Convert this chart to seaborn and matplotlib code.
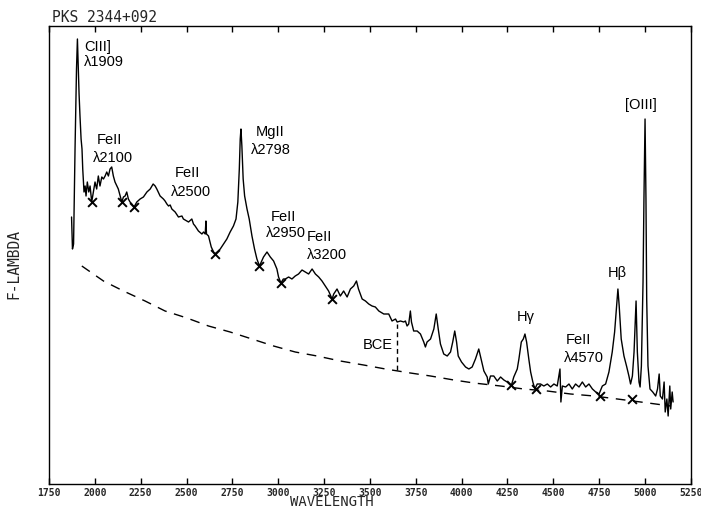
import matplotlib
matplotlib.use("Agg")
import matplotlib.pyplot as plt
import seaborn as sns
import pandas as pd

# spectrum (wavelength in Angstrom, F-lambda in arbitrary units)
wavelength = [
    1873, 1878, 1884, 1892, 1900, 1905, 1910, 1914, 1919, 1925, 1930, 1934, 1941, 1947,
    1952, 1959, 1967, 1974, 1983, 1992, 2001, 2010, 2019, 2028, 2038, 2047, 2056, 2065,
    2074, 2083, 2092, 2101, 2110, 2120, 2128, 2138, 2147, 2156, 2165, 2174, 2183, 2192,
    2202, 2214, 2229, 2247, 2265, 2284, 2302, 2318, 2329, 2338, 2356, 2374, 2383, 2393,
    2402, 2411, 2420, 2438, 2456, 2475, 2483, 2502, 2511, 2529, 2538, 2547, 2565, 2584,
    2593, 2602, 2606, 2609, 2620, 2635, 2653, 2667, 2684, 2702, 2720, 2738, 2756, 2770,
    2780, 2788, 2793, 2797, 2802, 2809, 2817, 2830, 2842, 2857, 2871, 2884, 2898, 2920,
    2939, 2957, 2975, 2993, 3002, 3015, 3028, 3039, 3057, 3075, 3093, 3111, 3130, 3148,
    3166, 3185, 3203, 3221, 3239, 3257, 3275, 3294, 3303, 3321, 3339, 3357, 3376, 3394,
    3412, 3427, 3438, 3458, 3476, 3494, 3512, 3530, 3549, 3576, 3603, 3621, 3640, 3649,
    3667, 3685, 3694, 3703, 3712, 3721, 3727, 3739, 3758, 3776, 3794, 3803, 3812, 3831,
    3849, 3862, 3873, 3885, 3903, 3922, 3940, 3952, 3963, 3973, 3982, 4000, 4022, 4040,
    4058, 4076, 4094, 4107, 4122, 4140, 4146, 4158, 4176, 4195, 4213, 4231, 4249, 4271,
    4285, 4304, 4313, 4326, 4337, 4346, 4355, 4367, 4377, 4389, 4400, 4413, 4431, 4449,
    4468, 4486, 4504, 4522, 4537, 4542, 4550, 4568, 4586, 4604, 4622, 4641, 4659, 4677,
    4695, 4714, 4732, 4750, 4768, 4786, 4804, 4822, 4835, 4846, 4853, 4860, 4871, 4886,
    4900, 4913, 4922, 4932, 4941, 4952, 4959, 4968, 4974, 4981, 4990, 4995, 5001, 5006,
    5010, 5017, 5028, 5043, 5059, 5069, 5078, 5084, 5096, 5105, 5111, 5120, 5127, 5136,
    5141, 5149, 5154,
]
flux = [
    2.67, 2.35, 2.40, 3.35, 4.15, 4.45, 4.15, 3.90, 3.68, 3.45, 3.35, 3.15, 2.92, 2.98,
    2.88, 3.02, 2.92, 2.98, 2.82, 2.92, 3.02, 2.95, 3.08, 2.98, 3.07, 3.05, 3.08, 3.12,
    3.08, 3.15, 3.17, 3.08, 3.02, 2.98, 2.95, 2.88, 2.82, 2.87, 2.88, 2.92, 2.85, 2.82,
    2.80, 2.77, 2.82, 2.85, 2.87, 2.92, 2.95, 3.00, 2.98, 2.95, 2.88, 2.85, 2.83, 2.80,
    2.78, 2.79, 2.75, 2.72, 2.67, 2.68, 2.65, 2.63, 2.62, 2.65, 2.60, 2.58, 2.53, 2.50,
    2.52, 2.50, 2.63, 2.50, 2.48, 2.37, 2.30, 2.32, 2.35, 2.40, 2.45, 2.52, 2.58, 2.65,
    2.82, 3.15, 3.45, 3.55, 3.38, 3.05, 2.88, 2.75, 2.65, 2.48, 2.35, 2.25, 2.18, 2.27,
    2.32, 2.27, 2.23, 2.15, 2.07, 2.01, 2.05, 2.05, 2.07, 2.05, 2.08, 2.10, 2.14, 2.12,
    2.10, 2.15, 2.10, 2.07, 2.03, 1.98, 1.93, 1.85, 1.90, 1.95, 1.88, 1.93, 1.87, 1.95,
    1.98, 2.03, 1.95, 1.85, 1.83, 1.80, 1.78, 1.77, 1.73, 1.70, 1.70, 1.63, 1.65, 1.62,
    1.63, 1.62, 1.63, 1.58, 1.60, 1.73, 1.62, 1.53, 1.53, 1.50, 1.42, 1.37, 1.42, 1.45,
    1.55, 1.70, 1.55, 1.40, 1.30, 1.28, 1.32, 1.42, 1.53, 1.42, 1.28, 1.22, 1.17, 1.15,
    1.17, 1.25, 1.35, 1.25, 1.13, 1.07, 1.00, 1.08, 1.08, 1.03, 1.07, 1.04, 1.02, 0.98,
    1.07, 1.15, 1.25, 1.42, 1.45, 1.50, 1.42, 1.25, 1.12, 1.02, 0.95, 1.00, 1.00, 0.98,
    1.00, 0.97, 1.00, 0.98, 1.15, 0.82, 0.98, 0.97, 1.00, 0.95, 1.00, 0.97, 1.02, 0.97,
    1.00, 0.95, 0.92, 0.90, 0.98, 1.00, 1.12, 1.32, 1.52, 1.78, 1.95, 1.78, 1.45, 1.28,
    1.18, 1.08, 1.00, 1.08, 1.32, 1.83, 1.32, 1.02, 0.97, 1.18, 2.02, 2.85, 3.65, 2.85,
    1.85, 1.18, 0.95, 0.92, 0.88, 0.95, 1.10, 0.88, 0.85, 1.02, 0.72, 0.85, 0.68, 0.98,
    0.75, 0.92, 0.82,
]

# continuum points marked with X
cont_wave = [1983, 2147, 2214, 2653, 2897, 3017, 3293, 4271, 4404, 4755, 4932]
cont_flux = [2.82, 2.82, 2.77, 2.30, 2.18, 2.01, 1.85, 0.99, 0.95, 0.88, 0.85]

# dashed power-law continuum
pl_wave = [1929, 2047, 2156, 2274, 2383, 2502, 2620, 2738, 2857, 2975, 3093, 3212, 3339,
           3466, 3585, 3721, 3831, 3958, 4067, 4213, 4340, 4468, 4595, 4722, 4850, 4977, 5141]
pl_flux = [2.18, 2.03, 1.93, 1.83, 1.73, 1.66, 1.58, 1.52, 1.45, 1.38, 1.32, 1.28, 1.23,
           1.19, 1.15, 1.11, 1.08, 1.04, 1.01, 0.98, 0.95, 0.93, 0.90, 0.88, 0.85, 0.82, 0.78]

# Balmer continuum edge
bce_wave = [3649, 3649]
bce_flux = [1.14, 1.60]

# line labels: (text, wavelength, flux)
labels = [
    ("CIII]", 1941, 4.38), ("λ1909", 1941, 4.23),
    ("FeII", 2012, 3.45), ("λ2100", 1990, 3.27),
    ("FeII", 2438, 3.12), ("λ2500", 2416, 2.93),
    ("MgII", 2875, 3.53), ("λ2798", 2853, 3.35),
    ("FeII", 2957, 2.68), ("λ2950", 2935, 2.52),
    ("FeII", 3155, 2.48), ("λ3200", 3159, 2.30),
    ("BCE", 3459, 1.40), ("Hγ", 4300, 1.68),
    ("FeII", 4568, 1.45), ("λ4570", 4557, 1.27),
    ("Hβ", 4797, 2.12), ("[OIII]", 4890, 3.80),
]

xticks = list(range(1750, 5251, 250))

sns.set_style("white")
plt.rcParams["font.family"] = ["Liberation Sans", "DejaVu Sans"]

fig = plt.figure(figsize=(7.01, 5.10), dpi=100)
ax = fig.add_axes([49 / 701, 25 / 510, 641.7 / 701, 458 / 510])

spec = pd.DataFrame({"wavelength": wavelength, "flux": flux})
sns.lineplot(data=spec, x="wavelength", y="flux", sort=False, estimator=None,
             color="black", linewidth=1.0, ax=ax)
sns.lineplot(x=pl_wave, y=pl_flux, sort=False, estimator=None, color="black",
             linewidth=1.0, dashes=False, ax=ax).lines[-1].set_dashes((7, 5.5))
ax.plot(bce_wave, bce_flux, color="black", linewidth=1.0, dashes=(3.5, 2.5))
sns.scatterplot(x=cont_wave, y=cont_flux, marker="x", s=40, color="black",
                linewidth=1.4, ax=ax, zorder=3)

for txt, xw, yf in labels:
    ax.text(xw, yf, txt, fontsize=10.5, ha="left", va="center", color="black")

ax.set_xlim(1750, 5250)
ax.set_ylim(0, 4.58)
ax.set_xticks(xticks)
ax.set_xticklabels([str(t) for t in xticks], family="DejaVu Sans Mono",
                   fontsize=7, fontweight="bold")
ax.set_yticks([])
ax.tick_params(axis="x", direction="in", top=True, bottom=True, length=4,
               width=1, color="black", pad=2)
for s in ax.spines.values():
    s.set_color("black")
    s.set_linewidth(1.0)
ax.set_xlabel("")
ax.set_ylabel("")

fig.text(332 / 701, 0.5 / 510, "WAVELENGTH", family="DejaVu Sans Mono",
         fontsize=10, ha="center", va="bottom")
fig.text(14 / 701, 1 - 264 / 510, "F-LAMBDA", family="DejaVu Sans Mono",
         fontsize=10.5, rotation=90, ha="center", va="center")
fig.text(52 / 701, 1 - 18 / 510, "PKS 2344+092", family="DejaVu Sans Mono",
         fontsize=10.5, ha="left", va="center")

fig.savefig("out.png", dpi=100)
